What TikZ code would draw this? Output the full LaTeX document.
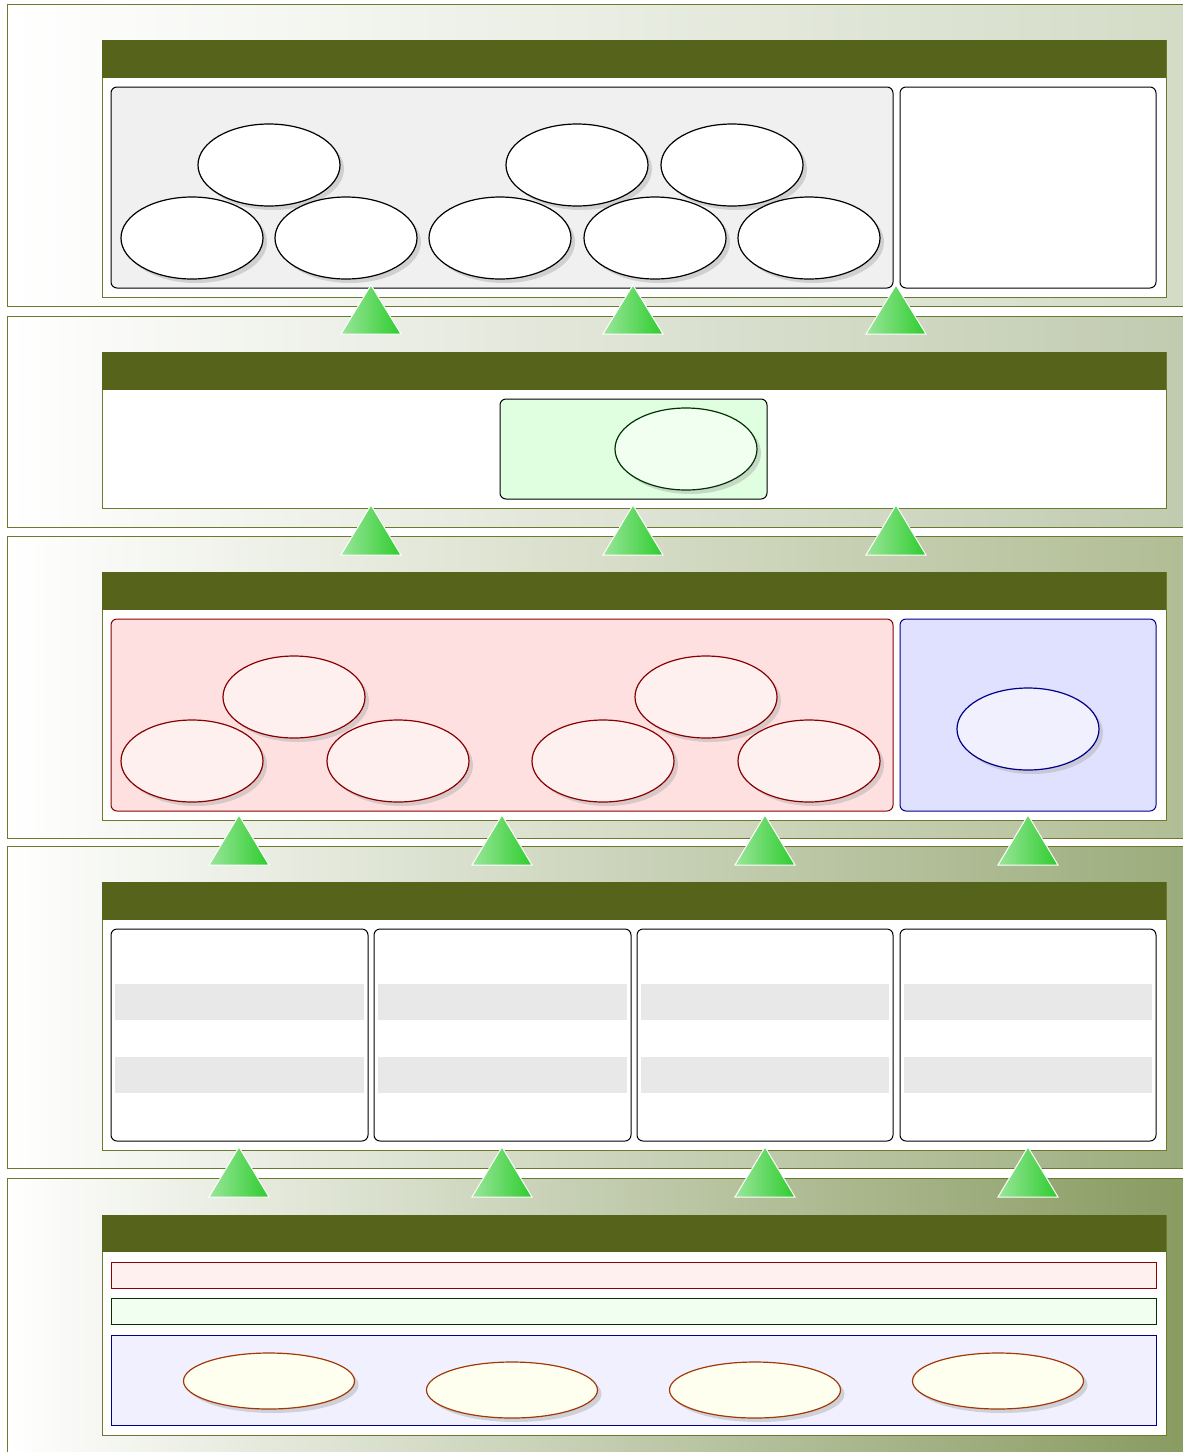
\documentclass[tikz,border=0pt]{standalone}
\usepackage{tikz}
\usetikzlibrary{shapes.geometric, shadows}

\definecolor{bandline}{HTML}{6B7A2C}
\definecolor{bandA}{HTML}{D3DBC6}
\definecolor{bandB}{HTML}{C0CAAE}
\definecolor{bandC}{HTML}{B0BC93}
\definecolor{bandD}{HTML}{9AAB7A}
\definecolor{bandE}{HTML}{879A5F}
\definecolor{headbar}{HTML}{56641B}
\definecolor{greybox}{HTML}{F0F0F0}
\definecolor{stripe}{HTML}{E8E8E8}
\definecolor{redfill}{HTML}{FFE0E0}
\definecolor{redpale}{HTML}{FFF0F0}
\definecolor{redline}{HTML}{880000}
\definecolor{greenfill}{HTML}{E0FFE0}
\definecolor{greenpale}{HTML}{F0FFF0}
\definecolor{greenline}{HTML}{003300}
\definecolor{bluefill}{HTML}{E0E0FF}
\definecolor{bluepale}{HTML}{F0F0FF}
\definecolor{blueline}{HTML}{000088}
\definecolor{ivory}{HTML}{FFFFF0}
\definecolor{sienna}{HTML}{A03808}
\definecolor{triglight}{HTML}{9AE69A}
\definecolor{trigdark}{HTML}{2ECC2E}

\begin{document}
\begin{tikzpicture}[x=1pt, y=-1pt,
  band/.style={draw=bandline, line width=1pt, left color=white},
  panel/.style={draw=bandline, line width=1pt, fill=white},
  header/.style={fill=headbar},
  roundbox/.style={draw=black, line width=1pt, rounded corners=6pt},
  blob/.style={ellipse, draw, line width=1.2pt, inner sep=0pt,
    minimum width=142pt, minimum height=82pt,
    drop shadow={shadow xshift=4pt, shadow yshift=-4pt, fill=black!30}},
  disc/.style={ellipse, draw=sienna, line width=1.2pt, fill=ivory, inner sep=0pt,
    minimum width=171pt, minimum height=56pt,
    drop shadow={shadow xshift=4pt, shadow yshift=-4pt, fill=black!30}},
  uptri/.style={draw=white, line width=1pt, left color=triglight, right color=trigdark}]
\useasboundingbox (0,0) rectangle (1183,1452);
\clip (0,0) rectangle (1183,1452);

% layer bands
\draw[band, right color=bandA] (7,4) rectangle (1200,306);
\draw[band, right color=bandB] (7,316) rectangle (1200,527);
\draw[band, right color=bandC] (7,536) rectangle (1200,838);
\draw[band, right color=bandD] (7,846) rectangle (1200,1168);
\draw[band, right color=bandE] (7,1178) rectangle (1200,1470);

% top layer
\draw[panel] (102,40) rectangle (1166,297);
\fill[header] (102,40) rectangle (1166,78);
\draw[roundbox, fill=greybox] (111,87) rectangle (893,288);
\draw[roundbox, fill=white] (900,87) rectangle (1156,288);
\node[blob, fill=white] (t1) at (269,165) {};
\node[blob, fill=white] (t2) at (577,165) {};
\node[blob, fill=white] (t3) at (732,165) {};
\node[blob, fill=white] (b1) at (192,238) {};
\node[blob, fill=white] (b2) at (346,238) {};
\node[blob, fill=white] (b3) at (500,238) {};
\node[blob, fill=white] (b4) at (655,238) {};
\node[blob, fill=white] (b5) at (809,238) {};

% second layer
\draw[panel] (102,352) rectangle (1166,508);
\fill[header] (102,352) rectangle (1166,390);
\draw[roundbox, fill=greenfill] (500,399) rectangle (767,499);
\node[blob, draw=greenline, fill=greenpale] (g1) at (686,449) {};

% third layer
\draw[panel] (102,572) rectangle (1166,820);
\fill[header] (102,572) rectangle (1166,610);
\draw[roundbox, draw=redline, fill=redfill] (111,619) rectangle (893,811);
\draw[roundbox, draw=blueline, fill=bluefill] (900,619) rectangle (1156,811);
\node[blob, draw=redline, fill=redpale] (r1) at (294,697) {};
\node[blob, draw=redline, fill=redpale] (r2) at (706,697) {};
\node[blob, draw=redline, fill=redpale] (r3) at (192,761) {};
\node[blob, draw=redline, fill=redpale] (r4) at (398,761) {};
\node[blob, draw=redline, fill=redpale] (r5) at (603,761) {};
\node[blob, draw=redline, fill=redpale] (r6) at (809,761) {};
\node[blob, draw=blueline, fill=bluepale] (u1) at (1028,729) {};

% fourth layer
\draw[panel] (102,882) rectangle (1166,1150);
\fill[header] (102,882) rectangle (1166,920);
\foreach \xl/\xr in {111/368, 374/631, 637/893, 900/1156} {
  \draw[roundbox, fill=white] (\xl,929) rectangle (\xr,1141);
  \fill[stripe] (\xl+4,984) rectangle (\xr-4,1020);
  \fill[stripe] (\xl+4,1057) rectangle (\xr-4,1093);
}

% bottom layer
\draw[panel] (102,1215) rectangle (1166,1435);
\fill[header] (102,1215) rectangle (1166,1252);
\draw[draw=redline, line width=1pt, fill=redpale] (111,1262) rectangle (1156,1288);
\draw[draw=greenline, line width=1pt, fill=greenpale] (111,1298) rectangle (1156,1324);
\draw[draw=blueline, line width=1pt, fill=bluepale] (111,1335) rectangle (1156,1425);
\node[disc] (d1) at (269,1381) {};
\node[disc] (d2) at (512,1390) {};
\node[disc] (d3) at (755,1390) {};
\node[disc] (d4) at (998,1381) {};

% arrows between layers
\foreach \x in {371, 633, 896} {
  \draw[uptri] (\x,285) -- (\x+30,334) -- (\x-30,334) -- cycle;
  \draw[uptri] (\x,505) -- (\x+30,555) -- (\x-30,555) -- cycle;
}
\foreach \x in {239, 502, 765, 1028} {
  \draw[uptri] (\x,815) -- (\x+30,865) -- (\x-30,865) -- cycle;
  \draw[uptri] (\x,1147) -- (\x+30,1197) -- (\x-30,1197) -- cycle;
}
\end{tikzpicture}
\end{document}
